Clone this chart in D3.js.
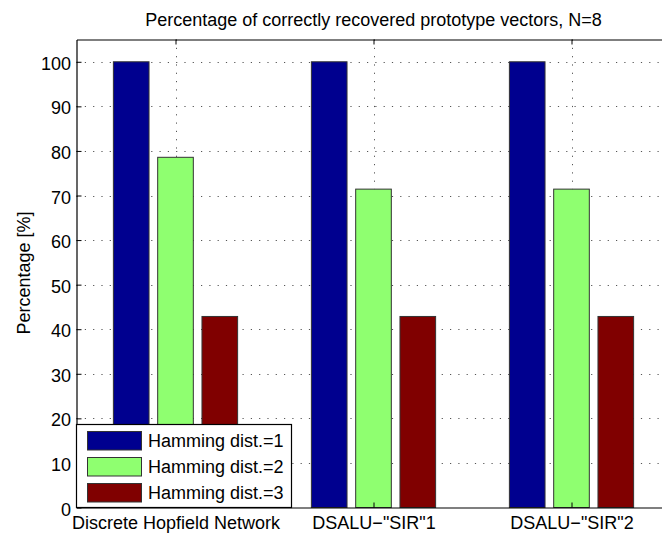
<!DOCTYPE html>
<html>
<head>
<meta charset="utf-8">
<script src="https://cdn.jsdelivr.net/npm/d3@7/dist/d3.min.js"></script>
<style>
  html, body { margin: 0; padding: 0; background: #fff; }
  svg { display: block; font-family: "Liberation Sans", Arial, Helvetica, sans-serif; }
</style>
</head>
<body>
<svg id="chart" width="662" height="533"></svg>
<script>
// Categories (methods) and series (Hamming distance of the probe vector)
const categories = ["Discrete Hopfield Network", "DSALU\u2212\"SIR\"1", "DSALU\u2212\"SIR\"2"];
const seriesNames = ["Hamming dist.=1", "Hamming dist.=2", "Hamming dist.=3"];
const seriesColors = ["#00008f", "#8fff70", "#800000"];
// Percentage of correctly recovered prototype vectors per series
const dist1 = [100, 100, 100];
const dist2 = [78.57, 71.43, 71.43];
const dist3 = [42.86, 42.86, 42.86];
const yTicks = [0, 10, 20, 30, 40, 50, 60, 70, 80, 90, 100];
const chartTitle = "Percentage of correctly recovered prototype vectors, N=8";
const yLabel = "Percentage [%]";

const series = [dist1, dist2, dist3];
const FONT = "18px";

const svg = d3.select("#chart");
const plotL = 76.5, plotR = 670.5, plotT = 39.5, plotB = 507.5;

const x = d3.scaleLinear().domain([0.5, 3.5]).range([plotL, plotR]);
const y = d3.scaleLinear().domain([0, 105]).range([plotB, plotT]);

// grouped-bar geometry in data units
const offsets = [-0.2237, 0, 0.2237];
const barW = 0.18;

// dotted grid
const grid = svg.append("g").attr("stroke", "#555").attr("stroke-width", 1)
  .attr("stroke-dasharray", "1.2,7.1");
grid.selectAll("line.h").data(yTicks.filter(d => d > 0)).join("line")
  .attr("class", "h")
  .attr("x1", plotL).attr("x2", plotR)
  .attr("y1", d => Math.round(y(d)) + 0.5).attr("y2", d => Math.round(y(d)) + 0.5);
grid.selectAll("line.v").data(categories.map((c, i) => i + 1)).join("line")
  .attr("class", "v")
  .attr("x1", d => Math.round(x(d)) + 0.5).attr("x2", d => Math.round(x(d)) + 0.5)
  .attr("y1", plotT).attr("y2", plotB);

// bars
series.forEach((vals, s) => {
  svg.append("g").selectAll("rect").data(vals).join("rect")
    .attr("x", (d, i) => x(i + 1 + offsets[s] - barW / 2))
    .attr("width", x(barW) - x(0))
    .attr("y", d => y(d))
    .attr("height", d => y(0) - y(d))
    .attr("fill", seriesColors[s])
    .attr("stroke", "#333")
    .attr("stroke-width", 1);
});

// axes with inward ticks
const yAxis = d3.axisLeft(y).tickValues(yTicks).tickSize(-5).tickPadding(5.5).tickSizeOuter(0);
const gy = svg.append("g").attr("transform", `translate(${plotL},0)`).call(yAxis);
const xAxis = d3.axisBottom(x).tickValues([1, 2, 3]).tickFormat(d => categories[d - 1])
  .tickSize(-5).tickSizeOuter(0);
const gx = svg.append("g").attr("transform", `translate(0,${plotB})`).call(xAxis);
const xTop = d3.axisTop(x).tickValues([1, 2, 3]).tickFormat("").tickSize(-5).tickSizeOuter(0);
svg.append("g").attr("transform", `translate(0,${plotT})`).call(xTop);

[gy, gx].forEach(g => {
  g.selectAll("text").attr("fill", "#000").style("font-size", FONT)
    .style("font-family", "'Liberation Sans', Arial, sans-serif");
});
svg.selectAll(".domain").attr("stroke", "#000").attr("stroke-width", 1.2);
svg.selectAll(".tick line").attr("stroke", "#000");
gy.selectAll("text").attr("dy", "0.42em");
gx.selectAll("text").attr("y", 21.5).attr("dy", 0);

// title and y label
svg.append("text").attr("x", (plotL + plotR) / 2).attr("y", 26)
  .attr("text-anchor", "middle").style("font-size", FONT).text(chartTitle);
svg.append("text").attr("transform", "translate(29.5,273) rotate(-90)")
  .attr("text-anchor", "middle").style("font-size", FONT).text(yLabel);

// legend
const lg = svg.append("g");
const lgX = 76.5, lgY = 424.5, lgW = 215, lgH = 83;
lg.append("rect").attr("x", lgX).attr("y", lgY).attr("width", lgW).attr("height", lgH)
  .attr("fill", "#fff").attr("stroke", "#000").attr("stroke-width", 1.2);
seriesNames.forEach((name, i) => {
  const cy = lgY + 16.5 + i * 26;
  lg.append("rect").attr("x", 87.5).attr("y", cy - 9.5).attr("width", 54).attr("height", 18.5)
    .attr("fill", seriesColors[i]).attr("stroke", "#333");
  lg.append("text").attr("x", 148).attr("y", cy).attr("dy", "0.35em")
    .style("font-size", FONT).text(name);
});
</script>
</body>
</html>
